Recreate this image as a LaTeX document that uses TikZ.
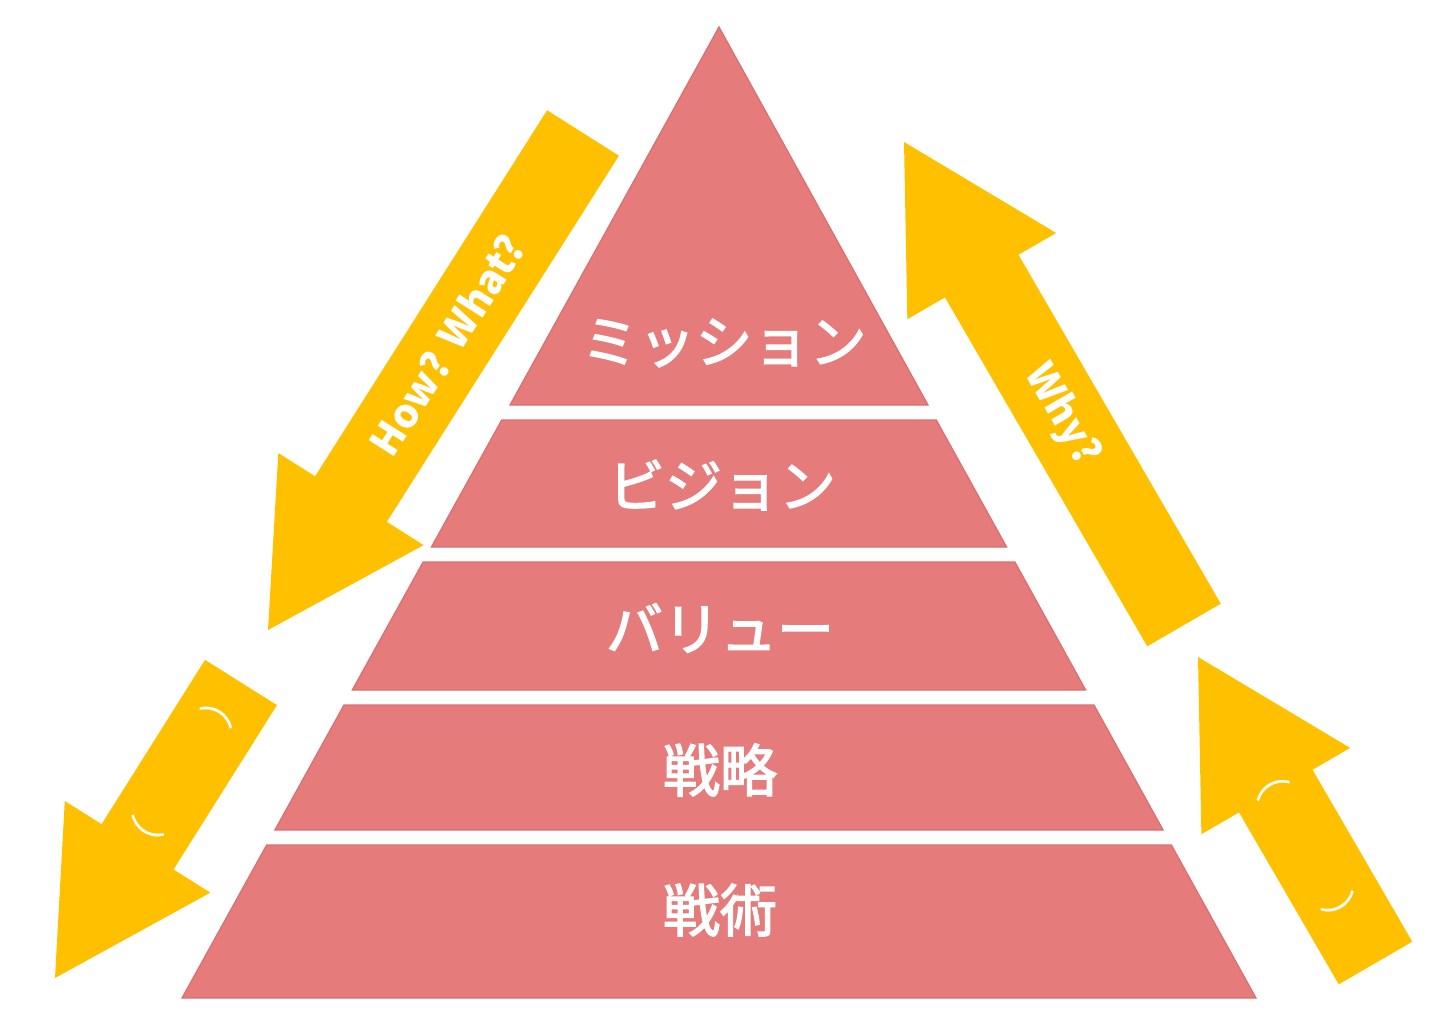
\documentclass[tikz,border=0pt]{standalone}
\usepackage{fontspec}
\setmainfont{Noto Sans CJK JP}
\newfontfamily\jpmed{Noto Sans CJK JP}[FakeBold=2.5]
\usetikzlibrary{calc}
\definecolor{pyr}{RGB}{229,123,123}
\definecolor{pyredge}{RGB}{220,110,110}
\definecolor{gold}{RGB}{255,192,0}
\tikzset{
  layer/.style={fill=pyr, draw=pyredge, line width=1.2pt, line join=miter},
  arrowfill/.style={fill=gold},
  layertext/.style={text=white, font=\jpmed\fontsize{57}{60}\selectfont, inner sep=0pt},
  arrowtext/.style={text=white, font=\fontsize{40}{44}\selectfont\bfseries, inner sep=0pt},
  parentext/.style={text=white, font=\fontsize{40}{44}\selectfont, inner sep=0pt}
}
% #1 tail coordinate, #2 tip coordinate, #3 base name
\newcommand\goldarrow[3]{%
  \coordinate (#3) at ($(#2)!155pt!(#1)$);
  \fill[arrowfill]
    ($(#1)!42.5pt!90:(#2)$) --
    ($(#3)!42.5pt!90:(#2)$) --
    ($(#3)!86pt!90:(#2)$) --
    (#2) --
    ($(#3)!86pt!-90:(#2)$) --
    ($(#3)!42.5pt!-90:(#2)$) --
    ($(#1)!42.5pt!-90:(#2)$) -- cycle;
}
\begin{document}
\begin{tikzpicture}[x=1pt,y=-1pt]
\useasboundingbox (0,0) rectangle (1440,1027);
% pyramid layers
\fill[layer] (719,27) -- (928.0,405) -- (510.0,405) -- cycle;
\fill[layer] (501.7,420) -- (936.3,420) -- (1006.6,547) -- (431.4,547) -- cycle;
\fill[layer] (423.1,562) -- (1014.9,562) -- (1085.7,690) -- (352.3,690) -- cycle;
\fill[layer] (344.0,705) -- (1094.0,705) -- (1163.1,830) -- (274.9,830) -- cycle;
\fill[layer] (266.6,845) -- (1171.4,845) -- (1256,998) -- (182,998) -- cycle;
\node[layertext] (mission) at (724,343) {ミッション};
\node[layertext] (vision) at (722,485) {ビジョン};
\node[layertext] (value) at (720,628) {バリュー};
\node[layertext] (strategy) at (720,770) {戦略};
\node[layertext] (tactics) at (720,910) {戦術};
% arrows
\coordinate (blT) at (583,133);   \coordinate (blP) at (268,630);
\coordinate (brT) at (1184,625);  \coordinate (brP) at (904,142);
\coordinate (slT) at (241,682.5); \coordinate (slP) at (55,978);
\coordinate (srT) at (1375.5,963);\coordinate (srP) at (1198,657);
\goldarrow{blT}{blP}{blB}
\goldarrow{brT}{brP}{brB}
\goldarrow{slT}{slP}{slB}
\goldarrow{srT}{srP}{srB}
\node[arrowtext, rotate=57.6] (howwhat) at (447,345) {How?\hspace{14pt}What?};
\node[arrowtext, rotate=-60] (why) at (1062,415) {Why?};
\node[parentext, rotate=-122] (pl) at (182,772) {（　　　）};
\node[parentext, rotate=-60] (pr) at (1306,846) {（　　　）};
\end{tikzpicture}
\end{document}
